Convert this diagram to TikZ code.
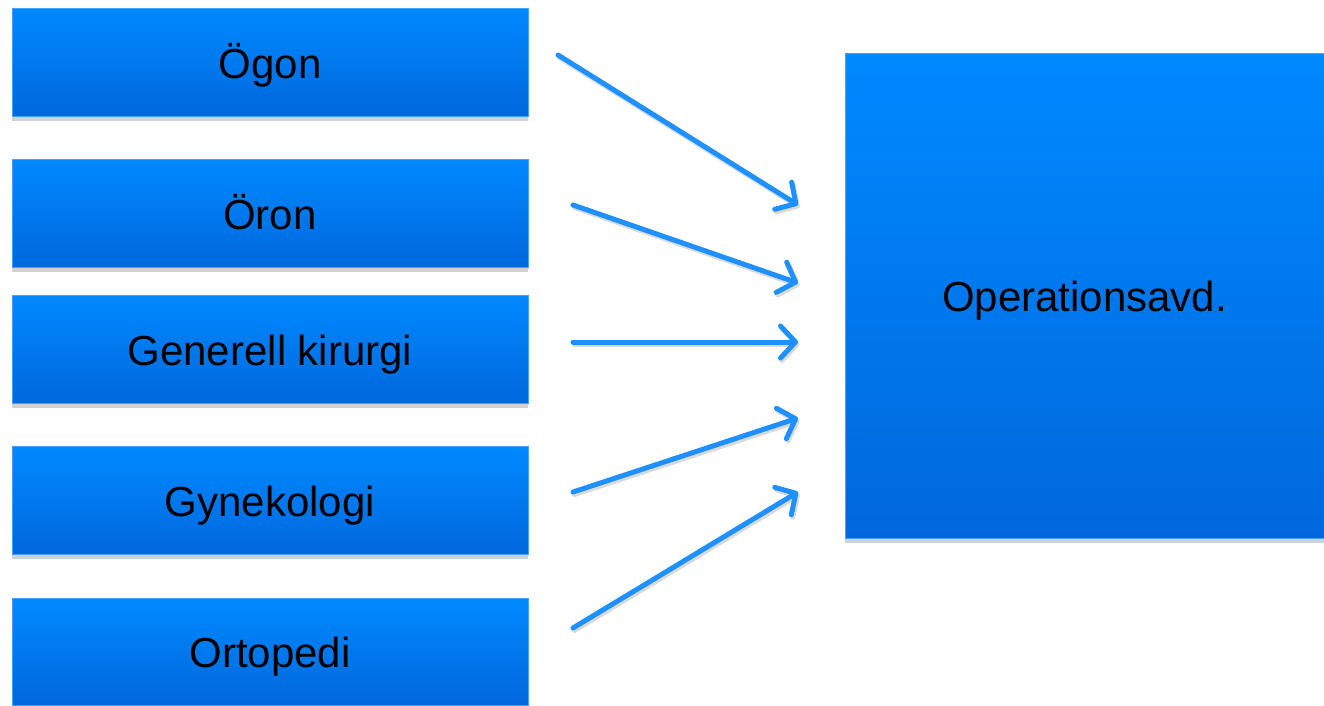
\documentclass[tikz,border=0pt]{standalone}
\usepackage{fontspec}
\setmainfont{Liberation Sans}
\usetikzlibrary{arrows.meta,shadows}
\definecolor{boxtop}{RGB}{0,137,255}
\definecolor{boxbot}{RGB}{0,104,220}
\definecolor{boxline}{RGB}{70,160,255}
\definecolor{arrowc}{RGB}{30,144,255}
\tikzset{
  dept/.style={rectangle, top color=boxtop, bottom color=boxbot, draw=boxline, line width=0.8pt,
    minimum width=516pt, minimum height=108pt, inner sep=0pt,
    text height=38pt, text depth=6pt,
    font=\fontsize{42}{50}\selectfont, text=black,
    drop shadow={shadow xshift=0pt, shadow yshift=-4.5pt, fill=black!18, opacity=1}},
  flow/.style={draw=arrowc, line width=5pt, line cap=round,
    -{Straight Barb[length=15pt,width=32pt,round]}},
  flowshadow/.style={draw=black!15, line width=5pt, line cap=round,
    -{Straight Barb[length=15pt,width=32pt,round]}}
}
\begin{document}
\begin{tikzpicture}[x=1pt,y=-1pt]
\useasboundingbox (0,0) rectangle (1324,705);
\node[dept] (b1) at (270,62) {Ögon};
\node[dept] (b2) at (270,213) {Öron};
\node[dept] (b3) at (270,349) {Generell kirurgi};
\node[dept] (b4) at (270,500.5) {Gynekologi};
\node[dept, minimum height=107pt] (b5) at (270,651.5) {Ortopedi};
\node[dept, minimum width=479pt, minimum height=485pt] (op) at (1084.5,295.5) {Operationsavd.};
\coordinate (s1) at (558,55);  \coordinate (t1) at (798,205);
\coordinate (s2) at (573,205); \coordinate (t2) at (798,283);
\coordinate (s3) at (573,342); \coordinate (t3) at (798,342);
\coordinate (s4) at (573,492); \coordinate (t4) at (798,418);
\coordinate (s5) at (573,628); \coordinate (t5) at (798,492);
\foreach \i in {1,...,5}{
  \draw[flowshadow] ([shift={(1.5,2.5)}]s\i) -- ([shift={(1.5,2.5)}]t\i);
}
\foreach \i in {1,...,5}{
  \draw[flow] (s\i) -- (t\i);
}
\end{tikzpicture}
\end{document}
